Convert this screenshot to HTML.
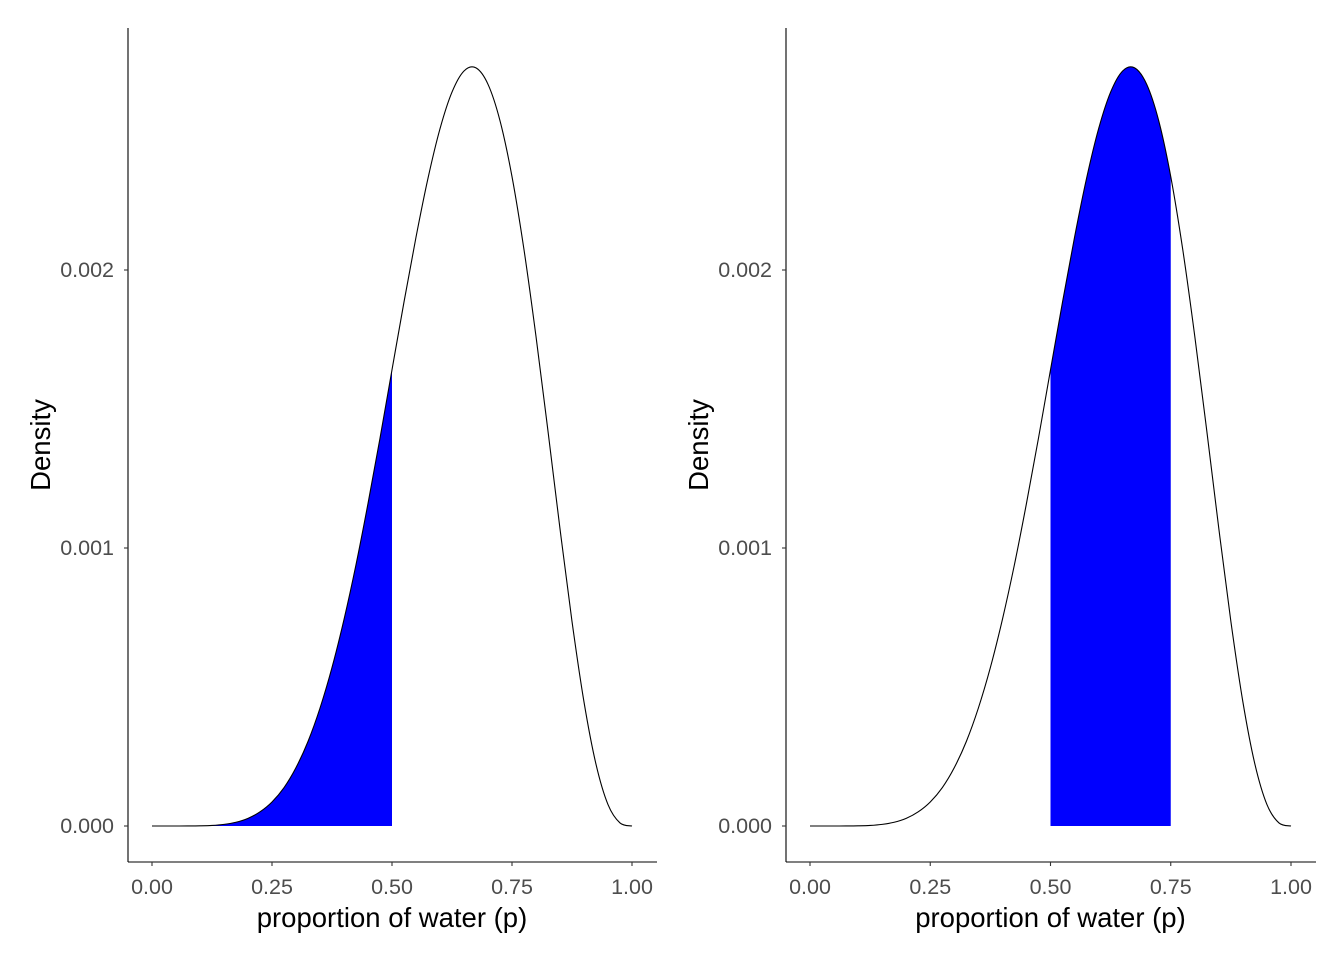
<!DOCTYPE html>
<html><head><meta charset="utf-8"><style>
html,body{margin:0;padding:0;background:#fff;}
svg text{font-family:"Liberation Sans",Arial,sans-serif;}
</style></head><body>
<svg id="chart" width="1344" height="960" xmlns="http://www.w3.org/2000/svg"></svg>
<script>
const pGrid = [0,0.025,0.05,0.075,0.1,0.125,0.15,0.175,0.2,0.225,0.25,0.275,0.3,0.325,0.35,0.375,0.4,0.425,0.45,0.475,0.5,0.525,0.55,0.575,0.6,0.625,0.65,0.675,0.7,0.725,0.75,0.775,0.8,0.825,0.85,0.875,0.9,0.925,0.95,0.975,1];
const density = [0,0,0.00000001,0.0000001,0.00000061,0.0000021,0.0000059,0.0000135,0.0000275,0.000051,0.0000865,0.000138,0.00021,0.000304,0.000424,0.00057,0.000743,0.00094,0.00116,0.001395,0.001641,0.001885,0.002118,0.00233,0.002508,0.00264,0.002716,0.002727,0.002668,0.002537,0.002336,0.002073,0.001761,0.00142,0.001069,0.000736,0.000446,0.000222,0.000077,0.000011,0];
const xTicks = [0,0.25,0.5,0.75,1];
const xTickLabels = ["0.00","0.25","0.50","0.75","1.00"];
const yTicks = [0,0.001,0.002];
const yTickLabels = ["0.000","0.001","0.002"];
const shadeLeft = [0,0.5];
const shadeRight = [0.5,0.75];

const NS="http://www.w3.org/2000/svg";
const svg=document.getElementById('chart');
function mk(tag,attrs,parent){const e=document.createElementNS(NS,tag);for(const k in attrs)e.setAttribute(k,attrs[k]);(parent||svg).appendChild(e);return e;}

function panel(x0,x1,axisX,shade,idx){
  const g=mk('g',{});
  
  
  const xs=v=>x0+(x1-x0)*v;
  const ys=v=>826-278000*v;
  const pts=pGrid.map((p,i)=>[xs(p),ys(density[i])]);
  let d='M'+pts[0][0]+','+pts[0][1];
  for(let i=0;i<pts.length-1;i++){
    const p0=pts[Math.max(i-1,0)],p1=pts[i],p2=pts[i+1],p3=pts[Math.min(i+2,pts.length-1)];
    const c1=[p1[0]+(p2[0]-p0[0])/6,p1[1]+(p2[1]-p0[1])/6];
    const c2=[p2[0]-(p3[0]-p1[0])/6,p2[1]-(p3[1]-p1[1])/6];
    d+=` C${c1[0]},${c1[1]} ${c2[0]},${c2[1]} ${p2[0]},${p2[1]}`;
  }
  const cid='clip'+idx;
  const defs=mk('defs',{},g);
  const cp=mk('clipPath',{id:cid},defs);
  mk('rect',{x:xs(shade[0]),y:0,width:xs(shade[1])-xs(shade[0]),height:826},cp);
  const area=mk('path',{d:d+` L${xs(1)},826 L${xs(0)},826 Z`,fill:'#0000ff','clip-path':`url(#${cid})`},g);
  
  
  const line=mk('path',{d:d,fill:'none',stroke:'#000','stroke-width':1.1},g);
  
  
  const ya=mk('line',{x1:axisX,y1:28,x2:axisX,y2:862,stroke:'#000','stroke-width':1.1},g);
  
  
  const xa=mk('line',{x1:axisX,y1:862,x2:x1+25,y2:862,stroke:'#000','stroke-width':1.1},g);
  
  
  xTicks.forEach((t,i)=>{
    mk('line',{x1:xs(t),y1:862,x2:xs(t),y2:866,stroke:'#333','stroke-width':1.1},g);
    const tx=mk('text',{x:xs(t),y:894,'text-anchor':'middle','font-size':'21.5',fill:'#4d4d4d'},g);
    tx.textContent=xTickLabels[i];
    
    
  });
  yTicks.forEach((t,i)=>{
    mk('line',{x1:axisX-4,y1:ys(t),x2:axisX,y2:ys(t),stroke:'#333','stroke-width':1.1},g);
    const tx=mk('text',{x:axisX-14,y:ys(t)+7,'text-anchor':'end','font-size':'21.5',fill:'#4d4d4d'},g);
    tx.textContent=yTickLabels[i];
    
    
  });
  const xt=mk('text',{x:(xs(0)+xs(1))/2,y:927,'text-anchor':'middle','font-size':'27.5',fill:'#000'},g);
  xt.textContent='proportion of water (p)';
  
  
  const cy=445, cx=axisX-78;
  const yt=mk('text',{x:cx,y:cy,'text-anchor':'middle','font-size':'27.5',fill:'#000',transform:`rotate(-90 ${cx} ${cy})`},g);
  yt.textContent='Density';
  
  
}
panel(152,632,128,shadeLeft,1);
panel(810,1291,786,shadeRight,2);
</script>
</body></html>
